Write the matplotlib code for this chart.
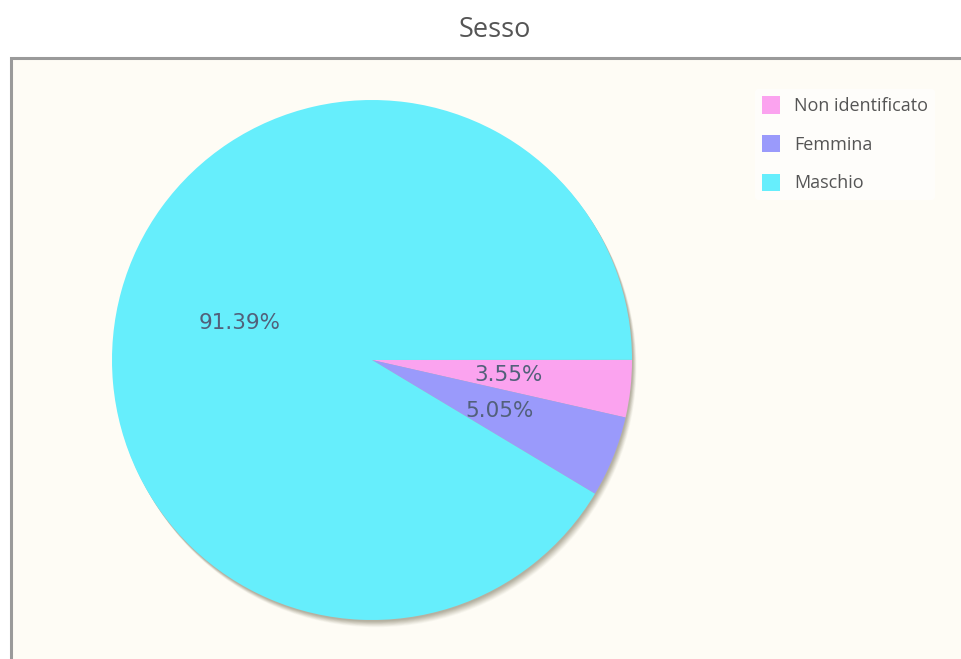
import matplotlib
matplotlib.use("Agg")
import matplotlib.pyplot as plt
from matplotlib.patches import Rectangle, Circle

# gender split, percent
labels = ["Non identificato", "Femmina", "Maschio"]
values = [3.55, 5.05, 91.39]
colors = ["#fba3ef", "#9a9afb", "#66eefc"]

W, H = 962, 659
cx, cy, r = 372, H - 360, 260


def draw_plot():
    fig = plt.figure(figsize=(W / 100, H / 100), dpi=100, facecolor="white")
    ax = fig.add_axes([0, 0, 1, 1])

    # chart panel
    ax.add_patch(Rectangle((11, -20), W + 40, H - 58 + 20, facecolor="#fefcf5",
                           edgecolor="#9a9a9a", linewidth=2.2, zorder=0))

    # soft drop shadow behind the pie
    for d, a in [(9, 0.05), (8, 0.07), (7, 0.08), (6, 0.09), (5, 0.10),
                 (4, 0.11), (3, 0.12), (2, 0.12)]:
        ax.add_patch(Circle((cx + d * 0.5, cy - d * 0.8), r, facecolor="#7d7660",
                            edgecolor="none", alpha=a, zorder=1))

    wedges, texts, autotexts = ax.pie(
        [v / 100 for v in values],
        colors=colors,
        startangle=0,
        counterclock=False,
        normalize=False,
        center=(cx, cy),
        radius=r,
        autopct="%.2f%%",
        pctdistance=0.53,
        wedgeprops={"linewidth": 0},
        textprops={"fontsize": 15.5, "color": "#52607a", "family": "DejaVu Sans"},
        frame=True,
    )
    for w in wedges:
        w.set_zorder(2)
    for t in autotexts:
        t.set_zorder(3)
    ax.set_xlim(0, W)
    ax.set_ylim(0, H)
    ax.axis("off")

    ax.text(495, H - 30, "Sesso", ha="center", va="center", fontsize=19.5,
            family="Open Sans", color="#555555")

    leg = ax.legend(wedges, labels, loc="upper left",
                    bbox_to_anchor=(746 / W, 1 - 80 / H),
                    frameon=True, facecolor="white", edgecolor="none",
                    framealpha=0.6, labelspacing=1.1,
                    handlelength=1.0, handleheight=1.1, handletextpad=0.75,
                    borderpad=0.4, prop={"family": "Open Sans", "size": 13})
    for t in leg.get_texts():
        t.set_color("#555555")

    fig.savefig("out.png", dpi=100, facecolor="white")


if __name__ == "__main__":
    draw_plot()
